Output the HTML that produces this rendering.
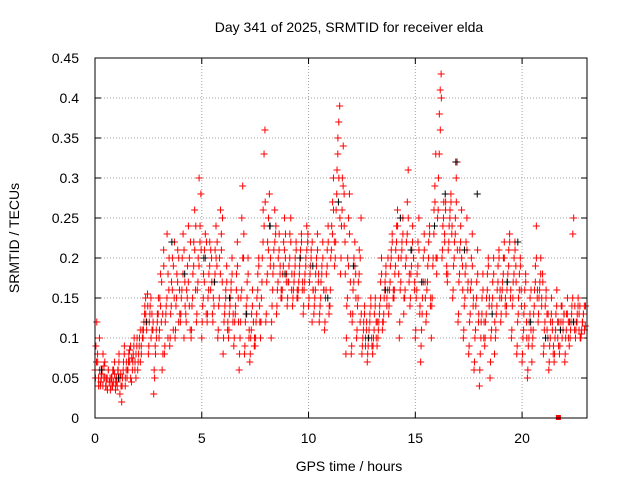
<!DOCTYPE html>
<html><head><meta charset="utf-8">
<style>
body{margin:0;background:#fff;}
svg text{font-family:"Liberation Sans",sans-serif;font-size:14px;fill:#000;}
</style></head>
<body>
<svg id="chart" width="640" height="480" xmlns="http://www.w3.org/2000/svg">
<rect width="640" height="480" fill="#fff"/>
<text x="349" y="32" text-anchor="middle">Day 341 of 2025, SRMTID for receiver elda</text>
<text x="349" y="471" text-anchor="middle">GPS time / hours</text>
<text transform="translate(19,238) rotate(-90)" text-anchor="middle">SRMTID / TECUs</text>
<g id="grid"></g>
<g id="ticks"></g>
<path id="redPts" fill="none" stroke="#ff0000" stroke-width="1"/>
<path id="blackPts" fill="none" stroke="#000" stroke-width="1"/>
<rect id="marker" fill="#ff0000" width="5" height="5"/>
<rect x="95" y="58" width="492" height="360" fill="none" stroke="#000" stroke-width="1"/>
</svg>
<script>
const xTicks=[0,5,10,15,20];
const yTicks=[0,0.05,0.1,0.15,0.2,0.25,0.3,0.35,0.4,0.45];
const yTickLabels=["0","0.05","0.1","0.15","0.2","0.25","0.3","0.35","0.4","0.45"];
const redTimes=[0,0.25,0.5,0.75,1,1.25,1.5,1.75,2,2.25,2.5,2.75,3,3.25,3.5,3.75,4,4.25,4.5,4.75,5,5.25,5.5,5.75,6,6.25,6.5,6.75,7,7.25,7.5,7.75,8,8.25,8.5,8.75,9,9.25,9.5,9.75,10,10.25,10.5,10.75,11,11.25,11.5,11.75,12,12.25,12.5,12.75,13,13.25,13.5,13.75,14,14.25,14.5,14.75,15,15.25,15.5,15.75,16,16.25,16.5,16.75,17,17.25,17.5,17.75,18,18.25,18.5,18.75,19,19.25,19.5,19.75,20,20.25,20.5,20.75,21,21.25,21.5,21.75,22,22.25,22.5,22.75];
const redValues=[
[.06,.09,.12,.07,.05,.1],[.04,.05,.06,.08,.05,.07],[.04,.05,.035,.06,.045,.05],[.04,.05,.06,.045,.07,.035],
[.05,.04,.06,.08,.03,.055],[.02,.05,.07,.09,.04,.06],[.05,.06,.08,.07,.09,.045],[.06,.08,.1,.07,.05,.09],
[.06,.08,.1,.07,.09,.11],[.1,.12,.14,.13,.11,.155],[.08,.12,.14,.1,.13,.11],[.03,.05,.08,.1,.12,.13],
[.1,.15,.18,.12,.06,.08,.21],[.08,.12,.14,.23,.1,.16],[.09,.13,.17,.2,.11,.15],[.1,.14,.18,.21,.12,.16],
[.12,.15,.2,.23,.1,.17],[.13,.16,.19,.24,.14,.11],[.1,.14,.18,.22,.26,.16],[.12,.16,.2,.3,.22,.28],
[.1,.14,.18,.21,.23,.13],[.12,.15,.18,.22,.16,.2],[.13,.15,.17,.21,.24,.19],[.1,.14,.2,.26,.23,.17],
[.08,.12,.14,.16,.19,.11],[.1,.13,.15,.17,.2,.12],[.09,.12,.14,.18,.22,.15],[.06,.1,.15,.25,.29,.2],
[.08,.12,.14,.17,.2,.1],[.07,.1,.13,.16,.12,.09],[.09,.12,.15,.18,.2,.14],[.1,.15,.2,.26,.33,.36],
[.12,.17,.22,.25,.28,.19],[.1,.14,.18,.21,.26,.23],[.13,.16,.2,.23,.18,.15],[.15,.18,.22,.25,.2,.17],
[.14,.17,.19,.23,.25,.16],[.14,.16,.18,.2,.22,.15],[.15,.17,.19,.21,.23,.16],[.13,.16,.18,.2,.24,.22],
[.14,.17,.19,.21,.12,.16],[.13,.15,.18,.2,.23,.17],[.12,.14,.17,.19,.22,.16],[.11,.15,.18,.21,.24,.13],
[.14,.2,.24,.27,.3,.22],[.2,.26,.31,.35,.37,.39],[.18,.24,.3,.34,.28,.22],[.08,.14,.2,.25,.28,.17],
[.08,.12,.16,.2,.22,.18],[.1,.14,.17,.21,.12,.25],[.08,.1,.12,.14,.09,.11],[.07,.09,.11,.13,.15,.1],
[.08,.1,.13,.15,.12,.09],[.1,.12,.14,.17,.2,.11],[.12,.15,.17,.19,.14,.16],[.13,.16,.19,.21,.23,.15],
[.15,.18,.21,.24,.26,.2],[.1,.16,.2,.22,.25,.13],[.15,.19,.22,.27,.31,.17],[.14,.18,.21,.24,.2,.16],
[.1,.15,.18,.22,.25,.13],[.07,.11,.15,.2,.23,.17],[.12,.16,.19,.22,.24,.14],[.1,.15,.2,.26,.29,.33],
[.18,.25,.3,.38,.41,.43],[.2,.24,.27,.22,.26,.18],[.17,.21,.24,.26,.28,.23],[.15,.19,.22,.25,.3,.32],
[.12,.17,.21,.24,.26,.19],[.1,.14,.18,.22,.25,.16],[.08,.12,.16,.2,.23,.14],[.06,.1,.14,.17,.21,.12],
[.04,.08,.12,.15,.18,.1],[.09,.12,.15,.18,.2,.14],[.05,.1,.14,.17,.2,.08],[.1,.13,.16,.19,.21,.15],
[.12,.15,.17,.2,.22,.14],[.13,.16,.18,.21,.23,.15],[.1,.14,.17,.2,.22,.19],[.08,.12,.15,.18,.2,.16],
[.07,.1,.13,.16,.18,.12],[.05,.09,.12,.15,.11,.07],[.1,.13,.16,.19,.24,.15],[.12,.15,.17,.2,.14,.18],
[.08,.11,.14,.16,.13,.1],[.06,.09,.12,.15,.11,.08],[.07,.1,.13,.16,.12,.09],[.08,.11,.14,.1,.12,.13],
[.07,.1,.13,.15,.12,.09],[.1,.12,.14,.23,.25,.11],[.1,.12,.13,.15,.11,.14],[.1,.11,.12,.13,.14,.115]];
const redValues2=[
[.05,.07,.08,.04,.06],[.045,.055,.04,.065,.05],[.04,.05,.06,.045,.035],[.05,.04,.06,.055,.045],
[.045,.06,.07,.05,.04],[.04,.06,.08,.05,.07],[.06,.07,.085,.05,.075],[.07,.09,.06,.08,.1],
[.07,.09,.11,.08,.1],[.11,.13,.15,.12,.14],[.09,.13,.15,.11,.12],[.06,.09,.11,.13,.15],
[.11,.14,.17,.13,.19],[.09,.13,.15,.18,.2],[.1,.14,.16,.19,.22],[.11,.15,.17,.2,.13],
[.13,.16,.18,.21,.14],[.12,.15,.17,.2,.22],[.11,.15,.19,.21,.24],[.13,.17,.19,.24,.21],
[.12,.15,.17,.2,.22],[.13,.16,.19,.21,.17],[.12,.14,.18,.2,.22],[.11,.15,.18,.21,.25],
[.1,.13,.15,.17,.12],[.11,.14,.16,.18,.13],[.1,.13,.16,.19,.12],[.08,.12,.16,.2,.23],
[.09,.13,.15,.18,.11],[.08,.11,.14,.12,.1],[.1,.13,.16,.19,.12],[.12,.17,.22,.24,.27],
[.13,.18,.21,.24,.2],[.12,.16,.19,.22,.24],[.14,.17,.21,.19,.16],[.16,.19,.21,.23,.18],
[.15,.17,.2,.22,.18],[.15,.17,.19,.21,.16],[.16,.18,.2,.22,.17],[.14,.17,.19,.21,.23],
[.15,.18,.2,.22,.16],[.14,.16,.19,.21,.18],[.13,.15,.18,.2,.16],[.12,.16,.19,.22,.14],
[.16,.21,.23,.26,.19],[.22,.28,.33,.3,.25],[.2,.26,.29,.24,.18],[.1,.15,.19,.23,.13],
[.09,.13,.17,.19,.15],[.11,.15,.18,.2,.13],[.09,.11,.13,.1,.12],[.08,.1,.12,.14,.09],
[.09,.11,.14,.1,.12],[.11,.13,.15,.18,.12],[.13,.16,.18,.15,.2],[.14,.17,.2,.22,.16],
[.16,.19,.22,.24,.18],[.12,.17,.21,.23,.15],[.16,.2,.23,.25,.18],[.15,.19,.22,.2,.17],
[.11,.16,.19,.21,.14],[.09,.13,.17,.21,.15],[.13,.17,.2,.23,.15],[.14,.19,.23,.27,.2],
[.2,.26,.33,.36,.4],[.21,.25,.23,.27,.19],[.18,.22,.25,.27,.24],[.16,.2,.23,.27,.21],
[.13,.18,.22,.2,.16],[.11,.15,.19,.21,.17],[.09,.13,.17,.19,.15],[.07,.11,.15,.18,.13],
[.06,.1,.13,.16,.12],[.1,.13,.16,.19,.15],[.07,.11,.15,.18,.12],[.11,.14,.17,.2,.16],
[.13,.16,.18,.2,.15],[.14,.17,.19,.22,.16],[.11,.15,.18,.21,.17],[.09,.13,.16,.19,.14],
[.08,.11,.14,.17,.1],[.06,.1,.13,.16,.09],[.11,.14,.17,.2,.16],[.13,.16,.18,.15,.17],
[.09,.12,.15,.11,.13],[.07,.1,.13,.12,.09],[.08,.11,.14,.1,.12],[.09,.12,.14,.11,.13],
[.08,.11,.13,.1,.12],[.11,.13,.15,.12,.14],[.11,.12,.14,.13,.1],[.105,.12,.13,.11,.14]];
const blackTimes=[0.3,1.1,2.4,3.6,4.2,5.1,5.6,6.3,7.1,8.2,8.9,9.6,10.2,10.9,11.4,12.1,12.8,13.6,14.3,14.8,15.3,15.9,16.4,16.9,17.3,17.9,18.6,19.3,19.8,20.4,21.1,21.8,22.4];
const blackValues=[0.06,0.05,0.12,0.22,0.18,0.2,0.17,0.15,0.13,0.24,0.18,0.2,0.19,0.15,0.27,0.19,0.1,0.16,0.25,0.21,0.17,0.24,0.28,0.32,0.21,0.28,0.13,0.17,0.22,0.12,0.1,0.11,0.12];
const squareT=21.7, squareV=0;

const X0=95,X1=587,Y0=418,Y1=58,XMAX=23.04,YMAX=0.45;
function sx(t){return X0+t/XMAX*(X1-X0);}
function sy(v){return Y0-v/YMAX*(Y0-Y1);}
const NS="http://www.w3.org/2000/svg";
const svg=document.getElementById('chart');
const grid=document.getElementById('grid'),ticks=document.getElementById('ticks');
let gd="",td="";
yTicks.forEach((v,i)=>{
  const y=sy(v);
  if(i>0&&i<yTicks.length-1) gd+=`M${X0},${y}H${X1}`;
  td+=`M${X0},${y}h6M${X1},${y}h-6`;
  const t=document.createElementNS(NS,'text');
  
  
  t.setAttribute('x',X0-16);t.setAttribute('y',y+5);t.setAttribute('text-anchor','end');
  t.textContent=yTickLabels[i];svg.appendChild(t);
});
xTicks.forEach(v=>{
  const x=sx(v);
  if(v>0) gd+=`M${x},${Y0}V${Y1}`;
  td+=`M${x},${Y0}v-6M${x},${Y1}v6`;
  const t=document.createElementNS(NS,'text');
  
  
  t.setAttribute('x',x);t.setAttribute('y',443);t.setAttribute('text-anchor','middle');
  t.textContent=String(v);svg.appendChild(t);
});
const gp=document.createElementNS(NS,'path');


gp.setAttribute('d',gd);gp.setAttribute('stroke','#a0a0a0');gp.setAttribute('stroke-width','1');gp.setAttribute('stroke-dasharray','1,2');
grid.appendChild(gp);
const tp=document.createElementNS(NS,'path');


tp.setAttribute('d',td);tp.setAttribute('stroke','#000');
ticks.appendChild(tp);
function plus(x,y){return `M${x-3.5},${y}h7M${x},${y-3.5}v7`;}
let bd="";
blackTimes.forEach((t,i)=>{bd+=plus(sx(t),sy(blackValues[i]));});
document.getElementById('blackPts').setAttribute('d',bd);
let rd="";
redTimes.forEach((t,i)=>{
  const vs=redValues[i];
  vs.forEach((v,j)=>{rd+=plus(sx(t+j*0.25/vs.length),sy(v));});
  const vs2=redValues2[i];
  vs2.forEach((v,j)=>{rd+=plus(sx(t+0.02+j*0.25/vs2.length),sy(v));});
});
document.getElementById('redPts').setAttribute('d',rd);
const m=document.getElementById('marker');
m.setAttribute('x',sx(squareT)-2.5);m.setAttribute('y',sy(squareV)-3);
</script>
</body></html>
